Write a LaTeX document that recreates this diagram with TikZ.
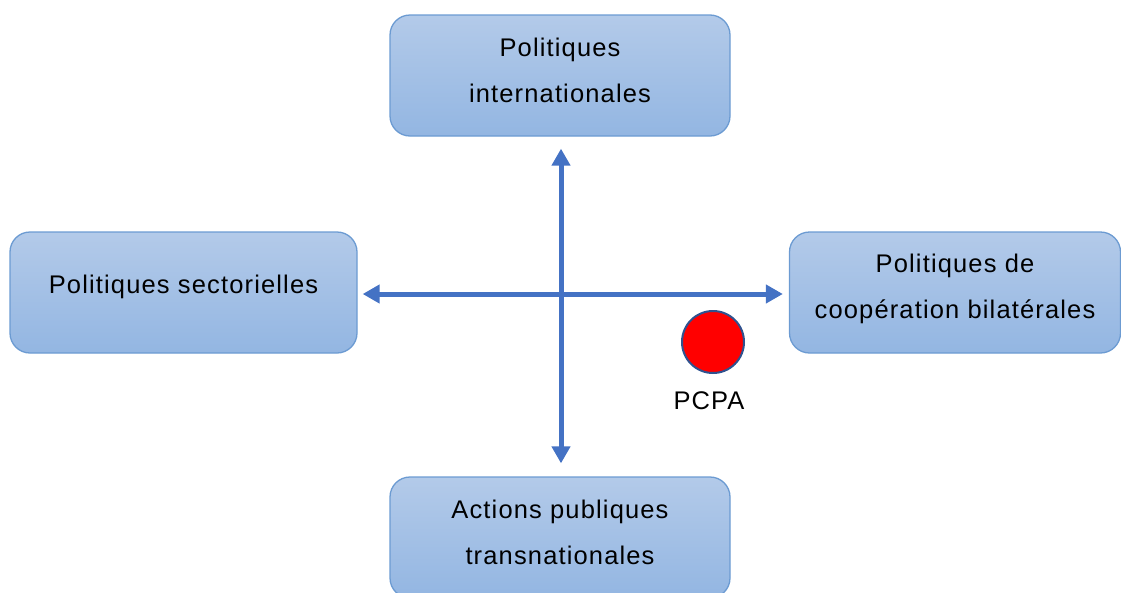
\documentclass[tikz,border=0pt]{standalone}
\usepackage{fontspec}
\setmainfont{Liberation Sans}[LetterSpace=4.5]
\usetikzlibrary{arrows.meta}

\definecolor{boxtop}{HTML}{B3CAE9}
\definecolor{boxbot}{HTML}{93B6E2}
\definecolor{boxline}{HTML}{6C9BD2}
\definecolor{axis}{HTML}{4472C4}
\definecolor{dotline}{HTML}{2F528F}

\tikzset{
  pbox/.style={draw=boxline, line width=1.3pt, rounded corners=20pt,
    top color=boxtop, bottom color=boxbot, minimum height=121pt},
  ptext/.style={align=center, font=\fontsize{25.5}{46}\selectfont},
  axe/.style={draw=axis, line width=5pt, {Triangle[length=17pt,width=18pt]}-{Triangle[length=17pt,width=18pt]}}
}

\begin{document}
\begin{tikzpicture}[x=1pt, y=-1pt]

  \useasboundingbox (0,0) rectangle (1121,592);

  \node[pbox, minimum width=340pt] (intl) at (560,75.5) {};
  \node[pbox, minimum width=347pt] (sect) at (183.5,292.5) {};
  \node[pbox, minimum width=331pt] (coop) at (955,292.5) {};
  \node[pbox, minimum width=340pt] (trans) at (560,537.5) {};

  \node[ptext] (intltxt) at ([yshift=5pt]intl.center) {Politiques\\internationales};
  \node[ptext] (secttxt) at ([yshift=6pt]sect.center) {Politiques sectorielles};
  \node[ptext] (cooptxt) at ([yshift=4pt]coop.center) {Politiques de\\coopération bilatérales};
  \node[ptext] (transtxt) at ([yshift=5pt]trans.center) {Actions publiques\\transnationales};

  % axes
  \draw[axe, shorten <=12pt, shorten >=13pt] ([xshift=1pt]intl.south) -- ([xshift=1pt]trans.north);
  \draw[axe, shorten <=5pt, shorten >=6pt] ([yshift=-1.5pt]sect.east) -- ([yshift=-1.5pt]coop.west);

  \node[circle, fill=red, draw=dotline, line width=2pt, minimum size=62pt, inner sep=0pt] (pcpa) at (713,342) {};
  \node[ptext, below=14pt] (pcpatxt) at ([xshift=-4pt]pcpa.south) {PCPA};

\end{tikzpicture}
\end{document}
